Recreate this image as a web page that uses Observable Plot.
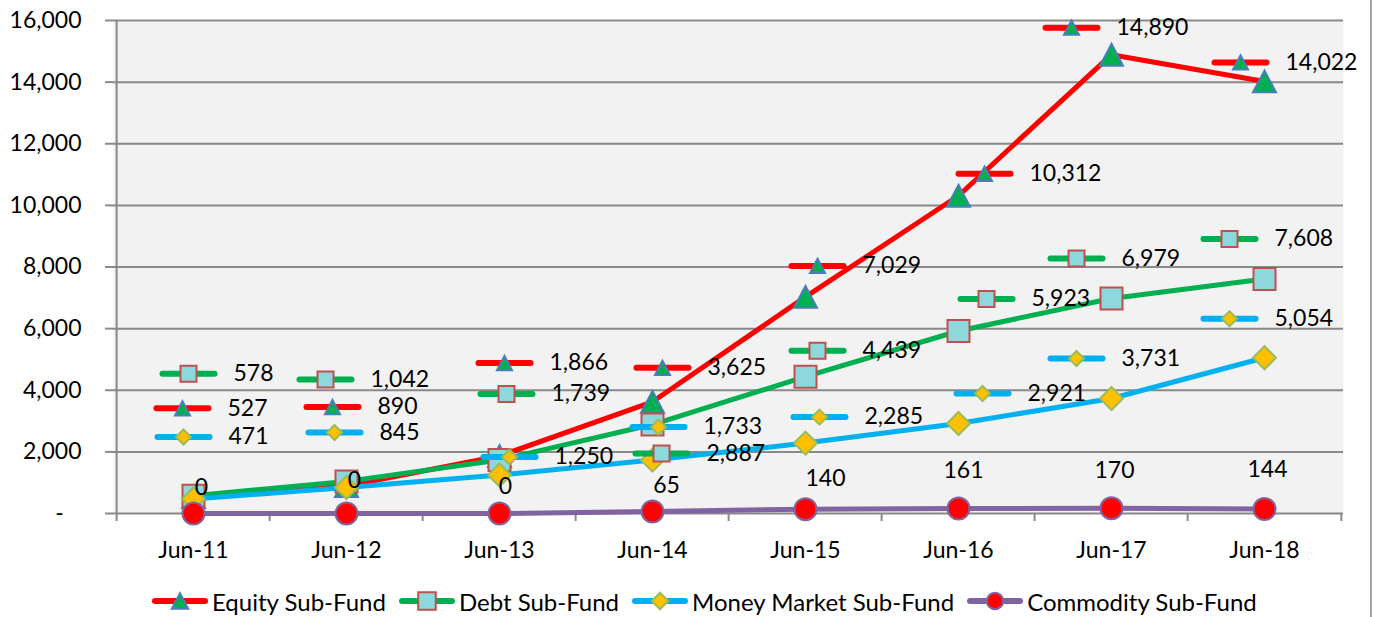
<!DOCTYPE html>
<html><head><meta charset="utf-8">
<script src="https://cdn.jsdelivr.net/npm/d3@7"></script>
<script src="https://cdn.jsdelivr.net/npm/@observablehq/plot@0.6"></script>
<style>
body{margin:0;background:#fff;font-family:Lato,sans-serif;}
#wrap{position:relative;width:1378px;height:617px;overflow:hidden;background:#fff;}
#border{position:absolute;left:1370px;top:0;width:2px;height:617px;background:#a6a6a6;}
#legend{display:flex;align-items:center;height:32px;padding-top:10px;padding-left:151px;font-size:24px;color:#000;font-family:Lato,sans-serif;}
.item{display:flex;align-items:center;margin-right:12px;white-space:nowrap;}
.item svg{margin-right:3px;display:block;}
</style></head><body>
<div id="wrap"><div id="chart"></div><div id="legend"></div><div id="border"></div></div>
<script>
// ---- data ----
const categories = ["Jun-11","Jun-12","Jun-13","Jun-14","Jun-15","Jun-16","Jun-17","Jun-18"];
const equity = [527, 890, 1866, 3625, 7029, 10312, 14890, 14022];
const debt = [578, 1042, 1739, 2887, 4439, 5923, 6979, 7608];
const moneyMarket = [471, 845, 1250, 1733, 2285, 2921, 3731, 5054];
const commodity = [0, 0, 0, 65, 140, 161, 170, 144];
const seriesNames = ["Equity Sub-Fund","Debt Sub-Fund","Money Market Sub-Fund","Commodity Sub-Fund"];
const yTicks = [0, 2000, 4000, 6000, 8000, 10000, 12000, 14000, 16000];

// ---- layout (pixel offsets of the hand-placed data labels) ----
const labelOffsets = [
  [[-11,-89],[-14,-79],[5,-93],[10,-34],[12,-31],[26,-22],[-40,-27],[-24,-19]],
  [[-5,-122],[-21,-102],[7,-66],[9,29],[12,-26],[28,-32],[-35,-40],[-35,-40]],
  [[-10,-62],[-12,-55],[10,-18],[6,-33],[14,-26],[24,-30],[-35,-40],[-35,-39]],
  [[8,-26],[8,-33],[6,-27],[14,-26],[20,-31],[5,-38],[3,-38],[3,-39]]
];

// ---- symbols ----
const rOf = size => Math.sqrt(size / Math.PI);
const tri = {draw(c, size){const r = rOf(size), h = r*0.95; c.moveTo(0,-h); c.lineTo(r,h); c.lineTo(-r,h); c.closePath();}};
const sq = {draw(c, size){const r = rOf(size); c.rect(-r,-r,2*r,2*r);}};
const dia = {draw(c, size){const r = rOf(size); c.moveTo(0,-r); c.lineTo(r,0); c.lineTo(0,r); c.lineTo(-r,0); c.closePath();}};
const circ = {draw(c, size){const r = rOf(size); c.moveTo(r,0); c.arc(0,0,r,0,2*Math.PI);}};
const hline = {draw(c){c.moveTo(-26,0); c.lineTo(26,0);}};

const seriesStyle = [
  {values: equity, line:"#ff0000", fill:"#00b050", stroke:"#4a7ebb", symbol:tri, r:11.5, kr:7.5},
  {values: debt, line:"#00b050", fill:"#8dd8dc", stroke:"#c0504d", symbol:sq, r:11, kr:8},
  {values: moneyMarket, line:"#00b0f0", fill:"#ffc000", stroke:"#9bbb59", symbol:dia, r:11.5, kr:7.5},
  {values: commodity, line:"#8064a2", fill:"#ff0000", stroke:"#8064a2", symbol:circ, r:11, kr:7.5}
];

const W = 1378, H = 575, mL = 113, mR = 35, mT = 20, mB = 62;
const step = (W - mL - mR) / categories.length;
const gridColor = "#898989";
const fmt = d3.format(",");

const marks = [
  Plot.frame({fill:"#f2f2f2", stroke:null}),
  Plot.ruleY(yTicks, {stroke:gridColor, strokeWidth:2}),
  Plot.ruleX([categories[0]], {x:d=>d, y1:yTicks[0], y2:yTicks[yTicks.length-1], dx:-step/2, stroke:gridColor, strokeWidth:2}),
  Plot.axisY({ticks: yTicks, tickSize:8, tickPadding:24, stroke:gridColor, strokeWidth:2, fill:"#000", fontSize:23,
              tickFormat: d => d === 0 ? "-\u00a0\u00a0\u00a0" : fmt(d), label:null}),
  Plot.axisX({tickSize:8, dx:-step/2, stroke:gridColor, strokeWidth:2, fill:"none", label:null}),
  Plot.axisX([categories[categories.length-1]], {tickSize:8, dx:step/2, stroke:gridColor, strokeWidth:2, fill:"none", label:null}),
  Plot.axisX({tickSize:0, tickPadding:28, fill:"#000", fontSize:23, label:null})
];

seriesStyle.forEach((s, k) => {
  const data = categories.map((c, i) => ({cat:c, v:s.values[i], series:seriesNames[k]}));
  marks.push(Plot.line(data, {x:"cat", y:"v", stroke:s.line, strokeWidth:5, strokeLinejoin:"round"}));
  marks.push(Plot.dot(data, {x:"cat", y:"v", symbol:s.symbol, r:s.r, fill:s.fill, stroke:s.stroke, strokeWidth:2}));
});

// data labels
seriesStyle.forEach((s, k) => {
  categories.forEach((c, i) => {
    const d = [{cat:c, v:s.values[i]}];
    const [dx, dy] = labelOffsets[k][i];
    if (k < 3) {
      marks.push(Plot.dot(d, {x:"cat", y:"v", dx, dy, symbol:hline, r:1, fill:"none", stroke:s.line, strokeWidth:6, strokeLinecap:"round"}));
      marks.push(Plot.dot(d, {x:"cat", y:"v", dx, dy, symbol:s.symbol, r:s.kr, fill:s.fill, stroke:s.stroke, strokeWidth:2}));
      marks.push(Plot.text(d, {x:"cat", y:"v", dx:dx+45, dy, text:e=>fmt(e.v), textAnchor:"start", fontSize:23, fill:"#000"}));
    } else {
      marks.push(Plot.text(d, {x:"cat", y:"v", dx, dy, text:e=>fmt(e.v), textAnchor:"middle", fontSize:23, fill:"#000"}));
    }
  });
});

const chart = Plot.plot({
  width:W, height:H, marginLeft:mL, marginRight:mR, marginTop:mT, marginBottom:mB,
  style:{fontFamily:"Lato, sans-serif", fontSize:"23px", background:"transparent", overflow:"visible", color:"#000"},
  x:{type:"point", domain:categories, padding:0.5, label:null, axis:null},
  y:{domain:[yTicks[0], yTicks[yTicks.length-1]], label:null, axis:null},
  marks
});
document.getElementById("chart").appendChild(chart);

// legend
const legend = d3.select("#legend");
seriesStyle.forEach((s, k) => {
  const item = legend.append("div").attr("class","item");
  const svg = item.append("svg").attr("width",58).attr("height",28);
  svg.append("line").attr("x1",4).attr("x2",54).attr("y1",14).attr("y2",14)
     .attr("stroke",s.line).attr("stroke-width",6).attr("stroke-linecap","round");
  svg.append("path").attr("transform","translate(29,14)")
     .attr("d", d3.symbol(s.symbol, Math.PI*s.kr*s.kr*1.2)())
     .attr("fill",s.fill).attr("stroke",s.stroke).attr("stroke-width",2);
  item.append("span").text(seriesNames[k]);
});
</script>
</body></html>
